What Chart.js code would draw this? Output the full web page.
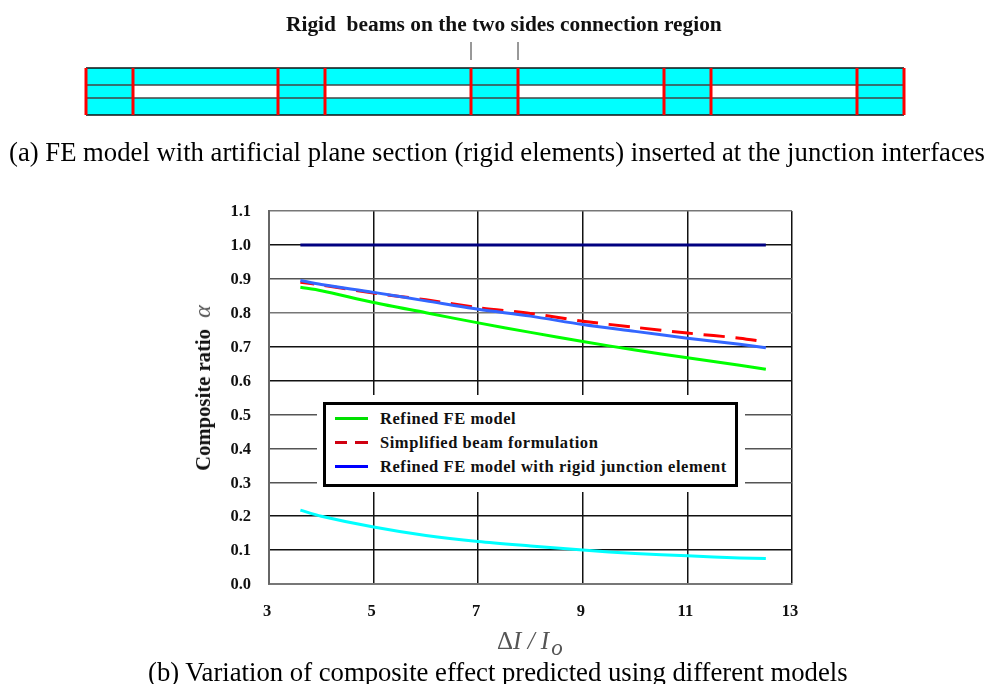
<!DOCTYPE html>
<html>
<head>
<meta charset="utf-8">
<title>Composite ratio</title>
<script src="https://cdn.jsdelivr.net/npm/chart.js@4"></script>
<style>
  html, body { margin: 0; padding: 0; background: #fff; }
  body { width: 988px; height: 684px; position: relative; overflow: hidden; font-family: "Liberation Serif", serif; color: #000; }
  canvas { position: absolute; left: 0; top: 0; }
  .txt { position: absolute; white-space: nowrap; line-height: 1; }
  #stripTitle { left: 286px; top: 14px; font-size: 21.4px; font-weight: bold; color: #111; }
  #captionA { left: 9px; top: 139px; font-size: 26.7px; }
  #captionB { left: 148px; top: 659px; font-size: 26.7px; }
  #yTitle { left: 202px; top: 388px; transform: translate(-50%, -50%) rotate(-90deg); font-size: 20.7px; font-weight: bold; color: #111; }
  #yTitle i { font-weight: normal; font-size: 24px; color: #555; margin-left: 6px; }
  #xTitle { left: 497px; top: 628px; font-size: 25px; font-style: italic; color: #555; }
  #xTitle b { font-weight: normal; font-style: normal; }
  #xTitle sub { font-size: 23px; line-height: 0; margin-left: 2px; }
  #legendGap { position: absolute; left: 317px; top: 395px; width: 428px; height: 97px; background: #fff; }
  #legend { position: absolute; left: 323px; top: 402px; width: 409px; height: 79px; border: 3px solid #000; background: #fff; }
  .legendRow { position: absolute; left: 9px; height: 24px; display: flex; align-items: center; }
  .legendLine { width: 33px; height: 3px; margin-right: 12px; }
  .legendText { font-size: 16.5px; font-weight: bold; color: #111; white-space: nowrap; letter-spacing: 0.55px; position: relative; top: 1px; }
</style>
</head>
<body>
<canvas id="mainChart" width="988" height="684"></canvas>
<div id="legendGap"></div>
<div id="legend"></div>
<canvas id="stripChart" width="840" height="80" style="left:76px;top:40px"></canvas>
<div class="txt" id="stripTitle">Rigid&nbsp; beams on the two sides connection region</div>
<div class="txt" id="captionA">(a) FE model with artificial plane section (rigid elements) inserted at the junction interfaces</div>
<div class="txt" id="yTitle">Composite ratio <i>&alpha;</i></div>
<div class="txt" id="xTitle"><b>&Delta;</b>I / I<sub>o</sub></div>
<div class="txt" id="captionB">(b) Variation of composite effect predicted using different models</div>
<script>
// curve data
const xValues = [3.6, 4, 5, 6, 7, 8, 9, 10, 11, 12, 12.5];
const fullComposite = [1, 1, 1, 1, 1, 1, 1, 1, 1, 1, 1];
const refinedFE = [0.875, 0.865, 0.83, 0.8, 0.77, 0.742, 0.715, 0.69, 0.667, 0.645, 0.633];
const simplifiedBeam = [0.89, 0.882, 0.858, 0.838, 0.815, 0.798, 0.775, 0.757, 0.74, 0.725, 0.714];
const refinedRigid = [0.895, 0.883, 0.86, 0.835, 0.81, 0.79, 0.765, 0.745, 0.725, 0.707, 0.697];
const noComposite = [0.218, 0.2, 0.168, 0.143, 0.125, 0.112, 0.1, 0.09, 0.083, 0.077, 0.075];
const legendNames = ['Refined FE model', 'Simplified beam formulation', 'Refined FE model with rigid junction element'];

// FE strip: stations along the beam and layer levels
const redStations = [0, 47, 192, 239, 385, 432, 578, 625, 771, 818];
const layerLevels = [0, 17, 30, 47];
const pointerStations = [385, 432];
const pointerRange = [55, 73];

const toPoints = (ys) => xValues.map((x, i) => ({ x, y: ys[i] }));

const curve = (label, ys, color, extra) => Object.assign({
    label,
    data: toPoints(ys),
    borderColor: color,
    backgroundColor: color,
    borderWidth: 3,
    pointRadius: 0,
    showLine: true,
    tension: 0.3
}, extra);

const gridColor = (ctx) => {
    const v = ctx.tick ? ctx.tick.value : 0;
    if (Math.abs(v - 0.8) < 0.01 || Math.abs(v - 1.1) < 0.01) return '#777';
    if (Math.abs(v - 0.9) < 0.01 || Math.abs(v - 0.5) < 0.01 || Math.abs(v - 0.4) < 0.01 || Math.abs(v - 0.3) < 0.01) return '#555';
    return '#111';
};

const tickFont = { family: 'Liberation Serif', size: 16.5, weight: 'bold' };

// chart.js paints the first dataset last, so the blue curve goes first to stay on top of the red one
const mainChart = new Chart(document.getElementById('mainChart').getContext('2d'), {
    type: 'scatter',
    data: {
        datasets: [
            curve(legendNames[2], refinedRigid, '#3366ff'),
            curve(legendNames[1], simplifiedBeam, '#ff0000', { borderDash: [21.2, 10.65], borderDashOffset: 7.35 }),
            curve(legendNames[0], refinedFE, '#00ff00'),
            curve('No composite', noComposite, '#00ffff'),
            curve('Full composite', fullComposite, '#000080', { tension: 0 })
        ]
    },
    options: {
        responsive: false,
        animation: false,
        layout: { padding: { left: 0, right: 196, top: 211, bottom: 0 } },
        plugins: { legend: { display: false }, tooltip: { enabled: false } },
        scales: {
            x: {
                type: 'linear',
                min: 3,
                max: 13,
                afterFit: (scale) => { scale.height = 100; },
                border: { color: '#777', width: 2 },
                grid: { color: '#111', lineWidth: 1.5, drawTicks: false },
                ticks: { stepSize: 2, padding: 18, labelOffset: -2, color: '#111', font: tickFont, maxRotation: 0 }
            },
            y: {
                type: 'linear',
                min: 0,
                max: 1.1,
                afterFit: (scale) => { scale.width = 269; },
                border: { color: '#666', width: 2 },
                grid: { color: gridColor, lineWidth: 1.5, drawTicks: false },
                ticks: { stepSize: 0.1, padding: 18, labelOffset: 1, color: '#111', font: tickFont, callback: (v) => v.toFixed(1) }
            }
        }
    }
});

// legend is html because it sits in a white box inside the plot
const legendBox = document.getElementById('legend');
const legendColors = ['#00e000', '#d00010', '#0000ff'];
legendNames.forEach((name, i) => {
    const d = mainChart.data.datasets.find(s => s.label === name);
    const row = document.createElement('div');
    row.className = 'legendRow';
    row.style.top = (1 + i * 24) + 'px';
    const line = document.createElement('div');
    line.className = 'legendLine';
    const c = legendColors[i];
    line.style.background = d.borderDash
        ? `linear-gradient(to right, ${c} 0 12px, transparent 12px 20px, ${c} 20px)`
        : c;
    const text = document.createElement('div');
    text.className = 'legendText';
    text.textContent = name;
    row.appendChild(line);
    row.appendChild(text);
    legendBox.appendChild(row);
});

// FE model strip, lines come first so they paint over the fills
const stripTop = layerLevels[3];
const last = redStations[redStations.length - 1];
const band = (x0, x1, y0, y1) => ({
    data: [{ x: x0, y: y1 }, { x: x1, y: y1 }],
    showLine: true,
    borderWidth: 0,
    pointRadius: 0,
    backgroundColor: '#00ffff',
    fill: { target: { value: y0 } }
});
const stripLine = (pts, color, width) => ({
    data: pts,
    showLine: true,
    borderColor: color,
    borderWidth: width,
    pointRadius: 0,
    fill: false
});
const stripSets = [];
pointerStations.forEach(x => {
    stripSets.push(stripLine([{ x, y: pointerRange[0] }, { x, y: pointerRange[1] }], '#333', 1));
});
redStations.forEach(x => {
    stripSets.push(stripLine([{ x, y: 0 }, { x, y: stripTop }], '#ff0000', 3));
});
layerLevels.forEach((y, i) => {
    stripSets.push(stripLine([{ x: 0, y }, { x: last, y }], i === 1 || i === 2 ? '#444' : '#111', 1.5));
});
stripSets.push(band(0, last, layerLevels[2], layerLevels[3]));
stripSets.push(band(0, last, layerLevels[0], layerLevels[1]));
for (let i = 0; i < redStations.length; i += 2) {
    stripSets.push(band(redStations[i], redStations[i + 1], layerLevels[1], layerLevels[2]));
}

new Chart(document.getElementById('stripChart').getContext('2d'), {
    type: 'scatter',
    data: { datasets: stripSets },
    options: {
        responsive: false,
        animation: false,
        layout: { padding: 0 },
        plugins: { legend: { display: false }, tooltip: { enabled: false } },
        scales: {
            x: { type: 'linear', display: false, min: -10, max: 830 },
            y: { type: 'linear', display: false, min: -5, max: 75 }
        }
    }
});
</script>
</body>
</html>
